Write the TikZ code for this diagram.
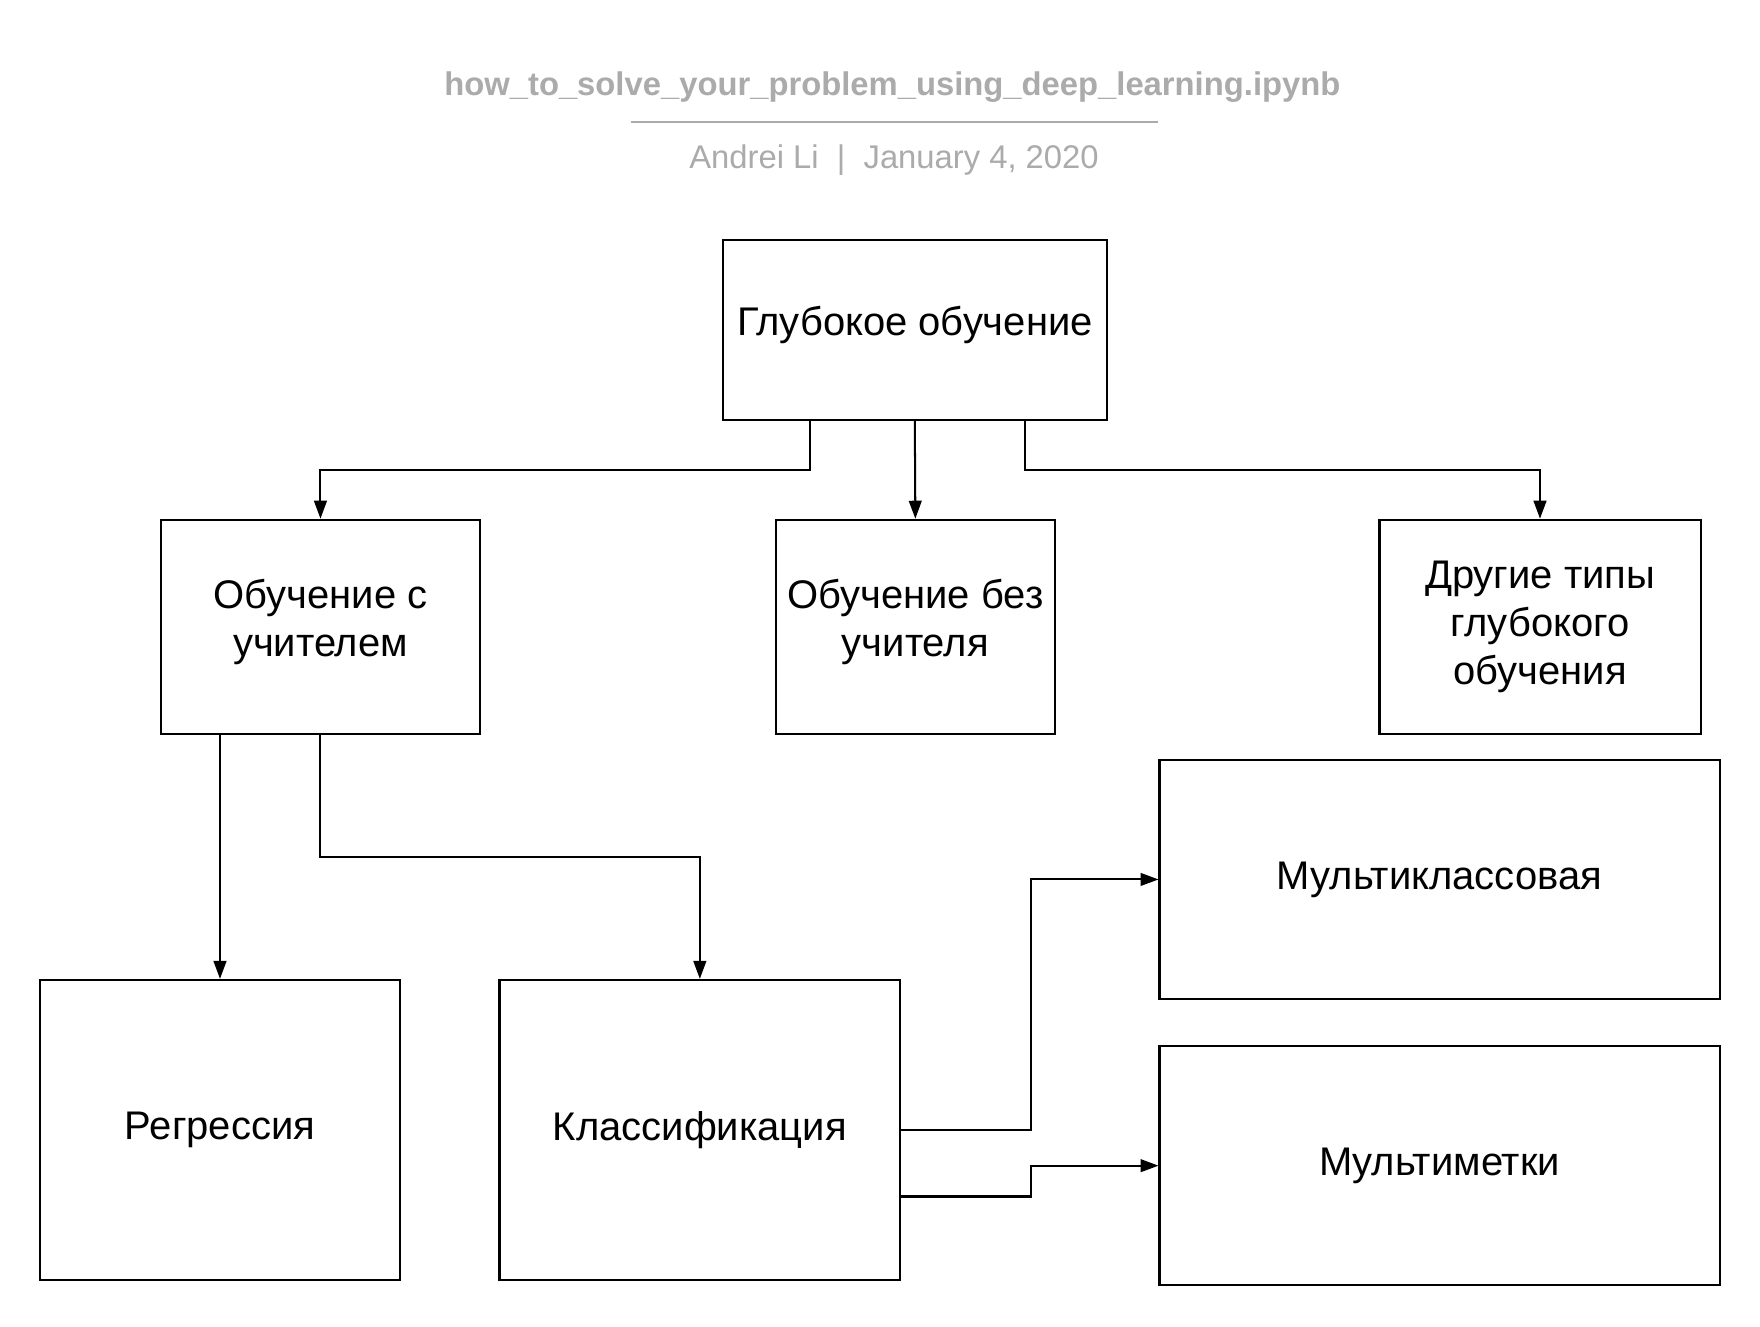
\documentclass[tikz,border=0pt]{standalone}
\usepackage{fontspec}
\setmainfont{Liberation Sans}
\usetikzlibrary{arrows.meta}
\definecolor{hdrgray}{HTML}{ABABAB}
\begin{document}
\begin{tikzpicture}[x=0.75pt,y=-0.75pt,
  box/.style={draw=black,line width=1.35pt,fill=white,align=center,inner sep=0pt,
    font=\fontsize{26.7pt}{32pt}\selectfont},
  lift/.style={text depth=12.4pt},
  arr/.style={draw=black,line width=1.35pt,-{Triangle[length=12pt,width=8.5pt]}},
  ttl/.style={text=hdrgray,font=\fontsize{21.9pt}{26pt}\selectfont\bfseries,inner sep=0pt},
  sub/.style={text=hdrgray,font=\fontsize{21.9pt}{26pt}\selectfont,inner sep=0pt}]
\useasboundingbox[fill=white] (0,0) rectangle (1568,1181.6);
\node[ttl] (title) at (795,78) {how\_to\_solve\_your\_problem\_using\_deep\_learning.ipynb};
\coordinate (la) at (562,108.5);
\coordinate (lb) at (1032,108.5);
\draw[hdrgray,line width=1.1pt] (la) -- (lb);
\node[sub] (byline) at (796.5,143) {Andrei Li\ \ |\ \ January 4, 2020};

\node[box,lift,minimum width=256.5pt,minimum height=120pt] (top) at (815,294) {Глубокое обучение};
\node[box,lift,minimum width=213.75pt,minimum height=143.25pt] (sup) at (285.5,558.5) {Обучение с\\учителем};
\node[box,lift,minimum width=186.75pt,minimum height=143.25pt] (unsup) at (815.5,558.5) {Обучение без\\учителя};
\node[box,minimum width=214.5pt,minimum height=143.25pt] (other) at (1372,558.5) {Другие типы\\глубокого\\обучения};
\node[box,minimum width=374.25pt,minimum height=159.75pt] (multi) at (1282.5,783.5) {Мультиклассовая};
\node[box,minimum width=374.25pt,minimum height=159.75pt] (mlabel) at (1282.5,1038.5) {Мультиметки};
\node[box,minimum width=240pt,minimum height=200.25pt] (reg) at (196,1006.5) {Регрессия};
\node[box,minimum width=267.75pt,minimum height=200.25pt] (cls) at (623.5,1006.5) {Классификация};

\draw[arr] ([xshift=-69.75pt]top.south) -- ++(0,44) -| (sup.north);
\draw[arr] (top.south) -- (unsup.north);
\draw[arr] ([xshift=73.5pt]top.south) -- ++(0,44) -| (other.north);
\draw[arr] (sup.south -| reg.north) -- (reg.north);
\draw[arr] (sup.south) -- ++(0,109) -| (cls.north);
\draw[arr] (cls.east) -- ++(116,0) |- (multi.west);
\draw[arr] ([yshift=-44.6pt]cls.east) -- ++(116,0) |- (mlabel.west);
\end{tikzpicture}
\end{document}
